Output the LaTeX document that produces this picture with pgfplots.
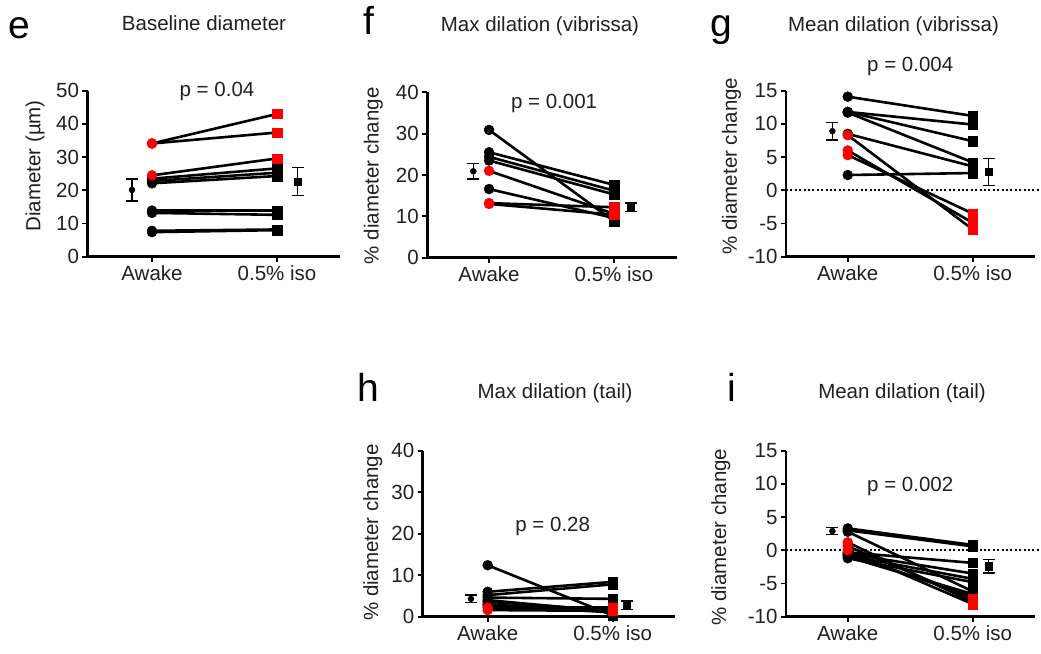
\documentclass[border=0pt]{standalone}
\usepackage{fontspec}
\setmainfont{Liberation Sans}
\usepackage{pgfplots}
\pgfplotsset{compat=1.18}
\usepackage{pgfplotstable}
\definecolor{txt}{RGB}{35,31,32}
\newcommand\fs{\fontsize{20.5bp}{24bp}\selectfont}
\newcommand\fl{\fontsize{39bp}{44bp}\selectfont}

% panel e: baseline diameter
\pgfplotstableread{
awake iso c
23.5 26.6 k
22.8 25.3 k
22.1 24.3 k
13.9 13.9 k
13.2 12.6 k
7.8 8.2 k
7.4 8.0 k
34.1 43.0 r
34.1 37.4 r
24.5 29.6 r
}\datae
% panel f: max dilation (vibrissa)
\pgfplotstableread{
awake iso c
30.9 8.8 k
25.5 17.6 k
24.4 16.2 k
23.5 15.3 k
16.6 9.6 k
21.0 10.6 r
13.2 12.2 r
13.0 10.4 r
}\dataf
% panel g: mean dilation (vibrissa)
\pgfplotstableread{
awake iso c
14.1 11.2 k
11.8 9.9 k
11.8 7.4 k
11.7 4.2 k
8.5 3.6 k
2.3 2.6 k
8.3 -5.9 r
6.0 -4.9 r
5.3 -3.5 r
}\datag
% panel h: max dilation (tail)
\pgfplotstableread{
awake iso c
12.4 0.3 k
6.0 8.4 k
5.2 7.8 k
4.6 4.3 k
4.0 1.2 k
3.6 1.5 k
3.0 1.0 k
2.6 1.8 k
2.2 2.2 r
1.6 1.4 r
}\datah
% panel i: mean dilation (tail)
\pgfplotstableread{
awake iso c
3.3 0.8 k
3.0 0.6 k
2.8 -6.2 k
-0.3 -1.9 k
-0.5 -3.5 k
-0.8 -4.3 k
-1.2 -4.8 k
-1.0 -6.6 k
-0.6 -7.0 k
1.2 -7.8 r
0.6 -7.3 r
0.0 -8.1 r
}\datai

\pgfplotsset{
  panel/.style={
    scale only axis,
    anchor=south west,
    height=166bp,
    xmax=2.5,
    enlargelimits=false,
    axis lines=left,
    axis line style={-, line width=2.6bp, black},
    xtick={1,2}, xticklabels={Awake, 0.5\% iso},
    tick align=outside,
    major tick length=5bp,
    tick style={line width=1.8bp, black},
    /pgf/number format/assume math mode=true,
    ticklabel style={font=\fs, text=txt},
    label style={font=\fs, text=txt},
    clip=false,
  },
  awk/.style={scatter, only marks, mark size=5bp, scatter src=explicit symbolic,
    scatter/classes={k={mark=*,black}, r={mark=*,red}}},
  isq/.style={scatter, only marks, mark size=4.7bp, scatter src=explicit symbolic,
    scatter/classes={k={mark=square*,black}, r={mark=square*,red}}},
  pair/.style={black, line width=2.6bp, quiver={u=1, v=\thisrow{iso}-(\thisrow{awake})}},
  mA/.style={black, only marks, mark=*, mark size=3bp,
    error bars/.cd, y dir=both, y explicit,
    error bar style={line width=1.4bp, black},
    error mark options={rotate=90, black, mark size=6bp, line width=1.4bp}},
  mI/.style={black, only marks, mark=square*, mark size=3.6bp,
    error bars/.cd, y dir=both, y explicit,
    error bar style={line width=1.4bp, black},
    error mark options={rotate=90, black, mark size=6bp, line width=1.4bp}},
  zline/.style={black, line width=2bp, dash pattern=on 2bp off 2.4bp},
}

\begin{document}
\begin{tikzpicture}
\path[use as bounding box] (0,0) rectangle (1041bp,654bp);

% ---- e ----
\begin{axis}[panel, at={(87.5bp,397.3bp)}, width=252bp, xmin=0.484,
  ymin=0, ymax=50, ytick={0,10,...,50},
  ylabel={Diameter (µm)},
  ylabel style={at={(axis description cs:-0.208,0.547)}, anchor=center}]
\addplot[awk] table[x expr=1, y=awake, meta=c]{\datae};
\addplot[isq] table[x expr=2, y=iso, meta=c]{\datae};
\addplot[pair] table[x expr=1, y=awake]{\datae};
\addplot[mA] coordinates {(0.84,20.1) +- (0,3.3)};
\addplot[mI] coordinates {(2.166,22.6) +- (0,4.2)};
\node[anchor=base, font=\fs, text=txt] at (axis cs:1.52,48.2) {p = 0.04};
\end{axis}

% ---- f ----
\begin{axis}[panel, at={(427.3bp,396.3bp)}, width=249.25bp, height=165.4bp, xmin=0.506,
  ymin=0, ymax=40, ytick={0,10,...,40},
  ylabel={\% diameter change},
  ylabel style={at={(axis description cs:-0.217,0.495)}, anchor=center}]
\addplot[awk] table[x expr=1, y=awake, meta=c]{\dataf};
\addplot[isq] table[x expr=2, y=iso, meta=c]{\dataf};
\addplot[pair] table[x expr=1, y=awake]{\dataf};
\addplot[mA] coordinates {(0.874,20.9) +- (0,1.9)};
\addplot[mI] coordinates {(2.134,12.2) +- (0,1.0)};
\node[anchor=base, font=\fs, text=txt] at (axis cs:1.52,36.1) {p = 0.001};
\end{axis}

% ---- g ----
\begin{axis}[panel, at={(786bp,397.3bp)}, width=249.25bp, xmin=0.506,
  ymin=-10, ymax=15, ytick={-10,-5,...,15},
  ylabel={\% diameter change},
  ylabel style={at={(axis description cs:-0.218,0.546)}, anchor=center}]
\addplot[zline] coordinates {(0.506,0) (2.54,0)};
\addplot[awk] table[x expr=1, y=awake, meta=c]{\datag};
\addplot[isq] table[x expr=2, y=iso, meta=c]{\datag};
\addplot[pair] table[x expr=1, y=awake]{\datag};
\addplot[mA] coordinates {(0.877,8.9) +- (0,1.33)};
\addplot[mI] coordinates {(2.128,2.75) +- (0,2.07)};
\node[anchor=base, font=\fs, text=txt] at (axis cs:1.5,17.9) {p = 0.004};
\end{axis}

% ---- h ----
\begin{axis}[panel, at={(422.7bp,37.3bp)}, width=252.5bp, xmin=0.48,
  ymin=0, ymax=40, ytick={0,10,...,40},
  ylabel={\% diameter change},
  ylabel style={at={(axis description cs:-0.198,0.507)}, anchor=center}]
\addplot[awk] table[x expr=1, y=awake, meta=c]{\datah};
\addplot[isq] table[x expr=2, y=iso, meta=c]{\datah};
\addplot[pair] table[x expr=1, y=awake]{\datah};
\addplot[mA] coordinates {(0.866,4.3) +- (0,0.9)};
\addplot[mI] coordinates {(2.115,2.8) +- (0,1.0)};
\node[anchor=base, font=\fs, text=txt] at (axis cs:1.52,20.5) {p = 0.28};
\end{axis}

% ---- i ----
\begin{axis}[panel, at={(786bp,37.3bp)}, width=249.25bp, xmin=0.506,
  ymin=-10, ymax=15, ytick={-10,-5,...,15},
  ylabel={\% diameter change},
  ylabel style={at={(axis description cs:-0.262,0.48)}, anchor=center}]
\addplot[zline] coordinates {(0.506,0) (2.54,0)};
\addplot[awk] table[x expr=1, y=awake, meta=c]{\datai};
\addplot[isq] table[x expr=2, y=iso, meta=c]{\datai};
\addplot[pair] table[x expr=1, y=awake]{\datai};
\addplot[mA] coordinates {(0.877,2.9) +- (0,0.55)};
\addplot[mI] coordinates {(2.128,-2.4) +- (0,1.0)};
\node[anchor=base, font=\fs, text=txt] at (axis cs:1.5,8.9) {p = 0.002};
\end{axis}

% titles and panel letters
\begin{scope}[every node/.style={text=txt}]
\node[anchor=base, font=\fs] at (204bp,623bp) {Baseline diameter};
\node[anchor=base, font=\fs] at (540bp,622.3bp) {Max dilation (vibrissa)};
\node[anchor=base, font=\fs] at (893.5bp,622bp) {Mean dilation (vibrissa)};
\node[anchor=base, font=\fs] at (555bp,255bp) {Max dilation (tail)};
\node[anchor=base, font=\fs] at (902bp,255bp) {Mean dilation (tail)};
\end{scope}
\begin{scope}[every node/.style={text=black, anchor=base west, inner sep=0pt, font=\fl}]
\node at (8bp,615bp) {e};
\node at (363bp,619bp) {f};
\node at (710bp,617bp) {g};
\node at (357bp,252bp) {h};
\node at (727bp,252bp) {i};
\end{scope}
\end{tikzpicture}
\end{document}
